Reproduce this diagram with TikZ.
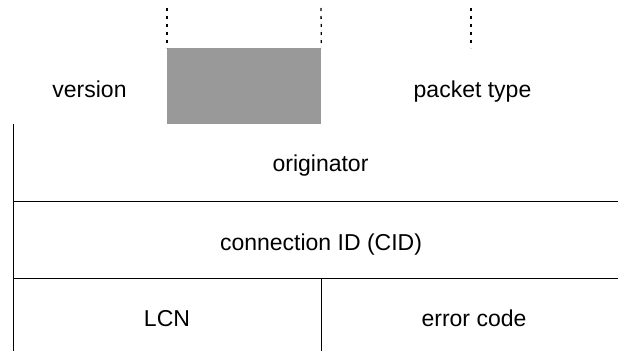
\documentclass[tikz,border=0pt]{standalone}
\usepackage{fontspec}
\setmainfont{Liberation Sans}
\usetikzlibrary{positioning}
\tikzset {
    x=1pt,
    y=-1pt,
    field/.style={font=\fontsize{23}{27}\selectfont, inner sep=0pt, anchor=base},
    rule/.style={line width=1pt},
    gap/.style={line width=1.3pt, dash pattern=on 3pt off 5pt},
    reserved/.style={fill=gray!80}
}

\begin{document}
\begin{tikzpicture}
                \useasboundingbox (0,0) rectangle (618,351);

                % corners of the frame
                \coordinate (tl) at (13,124);
                \coordinate (bl) at (13,351);
                \coordinate (r1l) at (13,201);
                \coordinate (r1r) at (618,201);
                \coordinate (r2l) at (13,278);
                \coordinate (r2r) at (618,278);
                \coordinate (mt) at (321,278);
                \coordinate (mb) at (321,351);

                % top line: version / reserved / packet type
                \node[reserved, minimum width=154, minimum height=76, inner sep=0pt, anchor=north west] (res) at (167,48) {};
                \coordinate (d1) at (167,8);
                \coordinate (d2) at (321,8);
                \coordinate (d3) at (471,8);
                \coordinate (d3b) at (471,48);
                \node[field] (version) at (89.5,97) {version};
                \node[field] (ptype) at (472.5,97) {packet type};

                \node[field] (orig) at (320.5,171) {originator};
                \node[field] (cid) at (321,250) {connection ID (CID)};
                \node[field] (lcn) at (167,326.5) {LCN};
                \node[field] (err) at (474,326.5) {error code};

                \draw[gap] (d1) -- (res.north west);
                \draw[gap] (d2) -- (res.north east);
                \draw[gap] (d3) -- (d3b);

                \draw[rule] (tl) -- (bl);
                \draw[rule] (r1l) -- (r1r);
                \draw[rule] (r2l) -- (r2r);
                \draw[rule] (mt) -- (mb);
\end{tikzpicture}
\end{document}
